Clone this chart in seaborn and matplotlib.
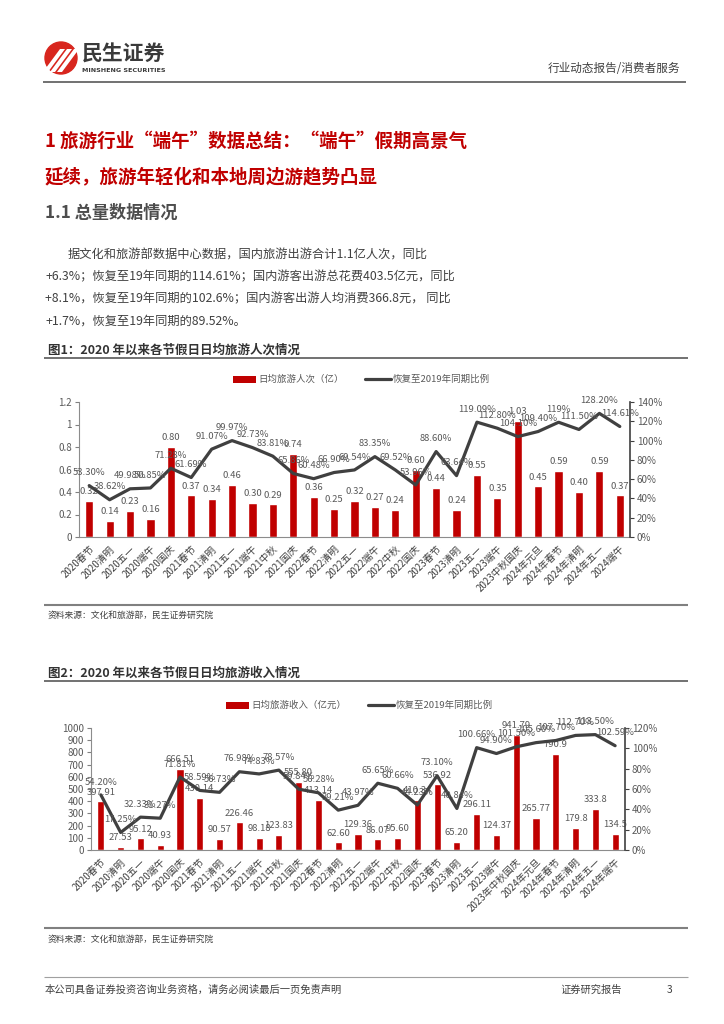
import numpy as np
import matplotlib
matplotlib.use('Agg')
import matplotlib.pyplot as plt
import seaborn as sns
from matplotlib.patches import Rectangle, Circle, Polygon

sns.set_style('white')
plt.rcParams['font.family'] = ['Noto Sans CJK SC', 'DejaVu Sans']
plt.rcParams['axes.unicode_minus'] = False

# 图1：日均旅游人次（亿）与恢复比例
cats1 = ['2020春节', '2020清明', '2020五一', '2020端午', '2020国庆',
         '2021春节', '2021清明', '2021五一', '2021端午', '2021中秋', '2021国庆',
         '2022春节', '2022清明', '2022五一', '2022端午', '2022中秋', '2022国庆',
         '2023春节', '2023清明', '2023五一', '2023端午', '2023中秋国庆',
         '2024年元旦', '2024年春节', '2024年清明', '2024年五一', '2024端午']
trips_txt = ['0.32', '0.14', '0.23', '0.16', '0.80', '0.37', '0.34', '0.46', '0.30',
             '0.29', '0.74', '0.36', '0.25', '0.32', '0.27', '0.24', '0.60', '0.44',
             '0.24', '0.55', '0.35', '1.03', '0.45', '0.59', '0.40', '0.59', '0.37']
ratio1_txt = ['53.30%', '38.62%', '49.98%', '50.85%', '71.28%', '61.69%', '91.07%',
              '99.97%', '92.73%', '83.81%', '65.86%', '60.48%', '66.90%', '69.54%',
              '83.35%', '69.52%', '53.96%', '88.60%', '63.64%', '119.09%', '112.80%',
              '104.10%', '109.40%', '119%', '111.50%', '128.20%', '114.61%']

# 图2：日均旅游收入（亿元）与恢复比例
cats2 = ['2020春节', '2020清明', '2020五一', '2020端午', '2020国庆',
         '2021春节', '2021清明', '2021五一', '2021端午', '2021中秋', '2021国庆',
         '2022春节', '2022清明', '2022五一', '2022端午', '2022中秋', '2022国庆',
         '2023春节', '2023清明', '2023五一', '2023端午', '2023年中秋国庆',
         '2024年元旦', '2024年春节', '2024年清明', '2024年五一', '2024年端午']
rev_txt = ['397.91', '27.53', '95.12', '40.93', '666.51', '430.14', '90.57', '226.46',
           '98.18', '123.83', '555.80', '413.14', '62.60', '129.36', '86.07', '95.60',
           '410.34', '536.92', '65.20', '296.11', '124.37', '941.79', '265.77', '790.9',
           '179.8', '333.8', '134.5']
ratio2_txt = ['54.20%', '17.25%', '32.33%', '31.27%', '71.81%', '58.59%', '56.73%',
              '76.98%', '74.83%', '78.57%', '59.84%', '56.28%', '39.21%', '43.97%',
              '65.65%', '60.66%', '44.23%', '73.10%', '40.84%', '100.66%', '94.90%',
              '101.50%', '105.60%', '107.70%', '112.70%', '113.50%', '102.59%']

RED = '#C00000'
LINE = '#404040'
GRAY = '#595959'
W, H = 724, 1024

fig = plt.figure(figsize=(W / 100, H / 100), dpi=100)
fig.patch.set_facecolor('white')

# 整页的文字和线条用像素坐标画
page = fig.add_axes([0, 0, 1, 1])
page.set_xlim(0, W)
page.set_ylim(H, 0)
page.axis('off')


def hline(y, x0=44, x1=688, color='#595959', lw=1.2):
    page.plot([x0, x1], [y, y], color=color, lw=lw, solid_capstyle='butt')


# 页眉
page.add_patch(Circle((61, 58), 16, color='#D8261E'))
for dx in (-7, 0, 7):
    page.add_patch(Polygon([(50 + dx, 72), (55 + dx, 72), (72 + dx, 49), (67 + dx, 49)],
                           closed=True, color='white', lw=0))
page.text(82, 54, '民生证券', fontsize=15, fontweight='bold', color='#3a3a3a', va='center')
page.text(82, 70.5, 'MINSHENG SECURITIES', fontsize=4.6, fontweight='bold',
          color='#3a3a3a', va='center', family='DejaVu Sans')
page.text(680, 69, '行业动态报告/消费者服务', fontsize=8.4, color='#404040', ha='right', va='center')
hline(82, 43, 686)

# 标题与正文
page.text(45, 141, '1 旅游行业“端午”数据总结：“端午”假期高景气', fontsize=13.3,
          fontweight='bold', color=RED, va='center')
page.text(45, 178, '延续，旅游年轻化和本地周边游趋势凸显', fontsize=13.3,
          fontweight='bold', color=RED, va='center')
page.text(45, 213, '1.1 总量数据情况', fontsize=12.3, fontweight='bold', color='#4d4d4d', va='center')
body = ['据文化和旅游部数据中心数据，国内旅游出游合计1.1亿人次，同比',
        '+6.3%；恢复至19年同期的114.61%；国内游客出游总花费403.5亿元，同比',
        '+8.1%，恢复至19年同期的102.6%；国内游客出游人均消费366.8元， 同比',
        '+1.7%，恢复至19年同期的89.52%。']
for k, line in enumerate(body):
    page.text(68 if k == 0 else 45, 255 + 22 * k, line, fontsize=8.8, color='#404040', va='center')

page.text(48, 350, '图1：2020 年以来各节假日日均旅游人次情况', fontsize=9, fontweight='bold',
          color='#333333', va='center')
hline(357.5)
hline(605, color='#808080', lw=1.5)
page.text(48, 615, '资料来源：文化和旅游部，民生证券研究院', fontsize=6.3, color='#404040', va='center')

page.text(48, 673, '图2：2020 年以来各节假日日均旅游收入情况', fontsize=9, fontweight='bold',
          color='#333333', va='center')
hline(681)
hline(928, color='#808080', lw=1.5)
page.text(48, 939, '资料来源：文化和旅游部，民生证券研究院', fontsize=6.3, color='#404040', va='center')

# 页脚
hline(977, 44, 688, color='#a0a0a0', lw=0.8)
page.text(45, 990, '本公司具备证券投资咨询业务资格，请务必阅读最后一页免责声明', fontsize=7.4,
          color='#404040', va='center')
page.text(622, 990, '证券研究报告', fontsize=7.4, color='#404040', ha='right', va='center')
page.text(672, 990, '3', fontsize=7.4, color='#404040', ha='right', va='center')


def legend(y, x_bar, bar_label, x_line):
    page.add_patch(Rectangle((x_bar, y - 3.5), 23, 7, color=RED, lw=0))
    page.text(x_bar + 25, y, bar_label, fontsize=6.8, color=GRAY, va='center')
    page.plot([x_line, x_line + 26], [y, y], color=LINE, lw=2.3)
    page.text(x_line + 28, y, '恢复至2019年同期比例', fontsize=6.8, color=GRAY, va='center')


def draw_chart(px, cats, vtxt, rtxt, ymax, ystep, yfmt, rmax, bar_w):
    left, right, top, bottom = px
    ax = fig.add_axes([left / W, 1 - bottom / H, (right - left) / W, (bottom - top) / H])
    vals = [float(s) for s in vtxt]
    ratio = [float(s.rstrip('%')) for s in rtxt]
    n = len(cats)
    x = np.arange(n)

    sns.barplot(x=cats, y=vals, color=RED, saturation=1, width=bar_w, ax=ax)
    for i, (v, s) in enumerate(zip(vals, vtxt)):
        ax.annotate(s, (i, v), xytext=(0, 3.5), textcoords='offset points',
                    ha='center', va='bottom', fontsize=6.8, color=GRAY)
    ax.set_xlim(-0.5, n - 0.5)
    ax.set_ylim(0, ymax)
    yt = np.arange(0, ymax + ystep / 2, ystep)
    ax.set_yticks(yt)
    ax.set_yticklabels([yfmt(t) for t in yt], fontsize=7, color=GRAY)
    ax.set_xticks(x)
    ax.set_xticklabels(cats, rotation=45, ha='right', rotation_mode='anchor',
                       fontsize=7, color='#404040')
    ax.tick_params(axis='x', length=0, pad=5)
    ax.tick_params(axis='y', length=3, width=0.8, color='#808080', pad=2)
    ax.set_xlabel('')
    ax.set_ylabel('')

    ax2 = ax.twinx()
    sns.lineplot(x=x, y=ratio, color=LINE, lw=2.3, ax=ax2)
    for i, (r, s) in enumerate(zip(ratio, rtxt)):
        ax2.annotate(s, (i, r), xytext=(0, 6), textcoords='offset points',
                     ha='center', va='bottom', fontsize=6.8, color=GRAY)
    ax2.set_ylim(0, rmax)
    rt = np.arange(0, rmax + 1, 20)
    ax2.set_yticks(rt)
    ax2.set_yticklabels([f'{t:.0f}%' for t in rt], fontsize=7, color=GRAY)
    ax2.tick_params(axis='y', length=3, width=0.8, color='#404040', pad=2)
    ax2.set_xlim(-0.5, n - 0.5)

    for a in (ax, ax2):
        a.spines['top'].set_visible(False)
        a.set_facecolor('none')
        a.grid(False)
    ax.spines['left'].set_color('#8c8c8c')
    ax.spines['bottom'].set_color('#8c8c8c')
    ax.spines['right'].set_visible(False)
    ax2.spines['left'].set_visible(False)
    ax2.spines['bottom'].set_visible(False)
    ax2.spines['right'].set_color('#404040')
    ax2.spines['right'].set_linewidth(1.2)
    return ax, ax2


legend(379, 233, '日均旅游人次（亿）', 365)
draw_chart((79, 630, 402, 537), cats1, trips_txt, ratio1_txt, 1.2, 0.2,
           lambda t: f'{t:g}', 140, 0.4)

legend(705, 226, '日均旅游收入（亿元）', 368)
draw_chart((91, 625, 728, 850), cats2, rev_txt, ratio2_txt, 1000, 100,
           lambda t: f'{t:.0f}', 120, 0.36)

fig.savefig('out.png', dpi=100, facecolor='white')
